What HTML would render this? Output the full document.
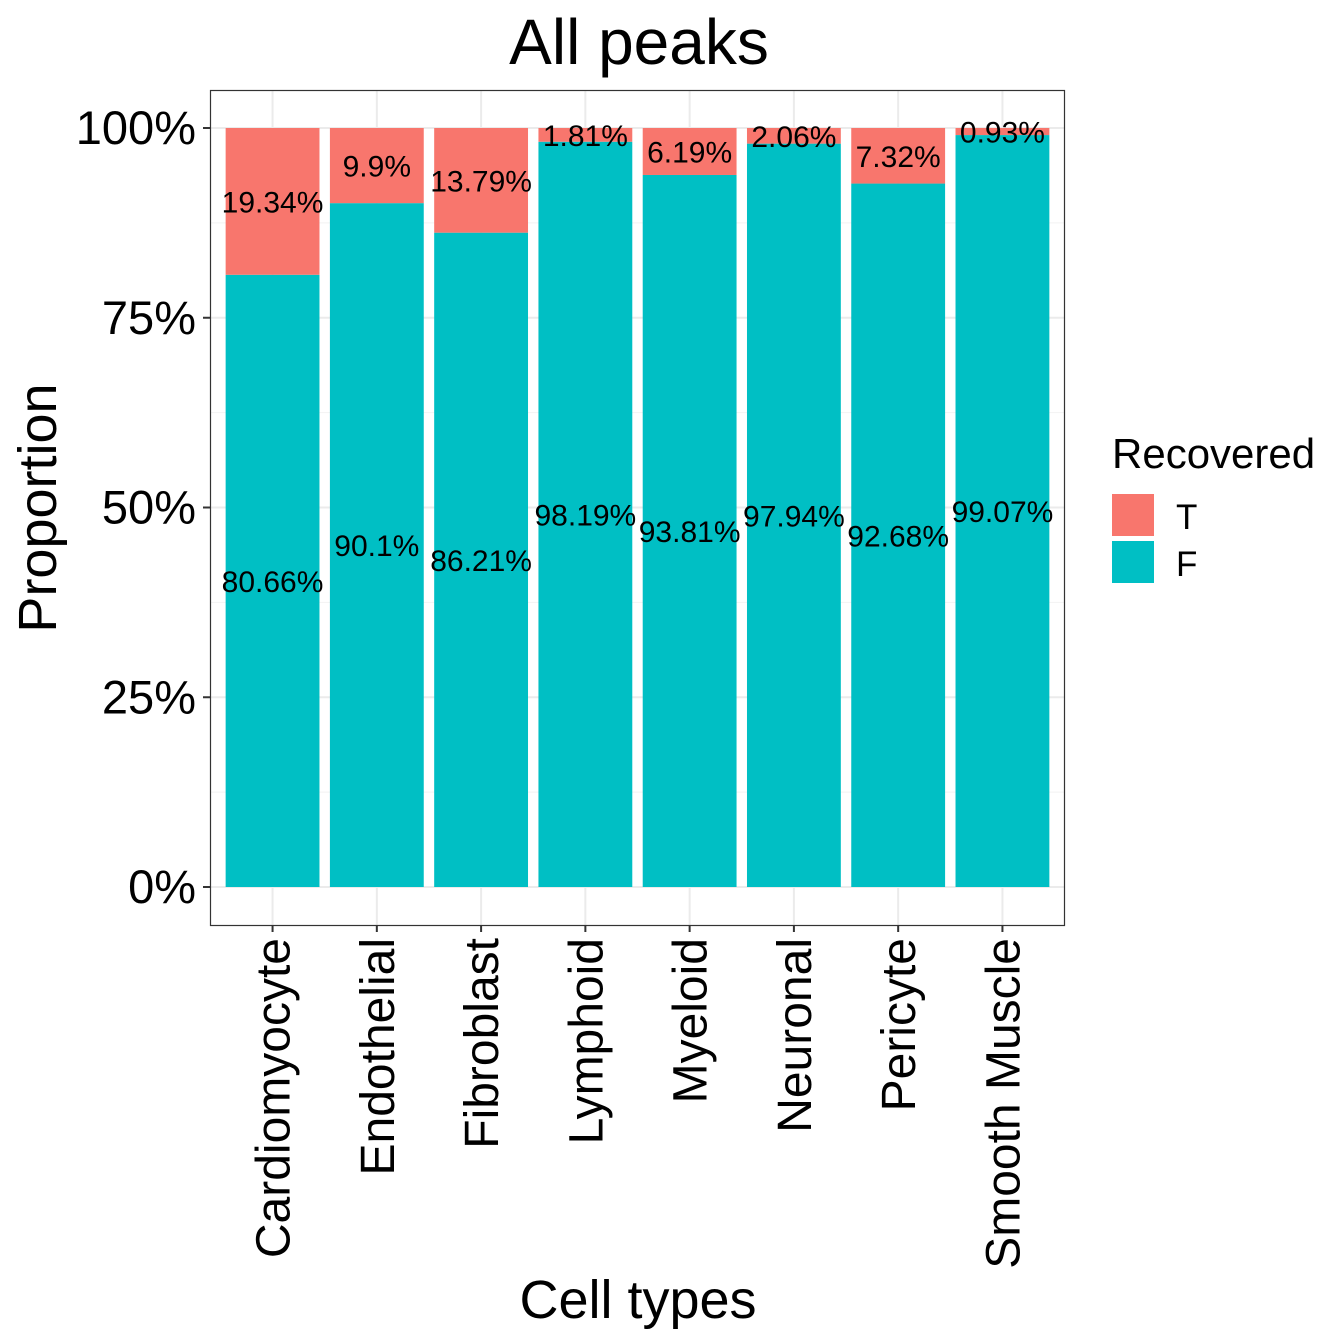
<!DOCTYPE html>
<html><head><meta charset="utf-8">
<style>
html,body{margin:0;padding:0;background:#fff;}
svg{display:block;font-family:"Liberation Sans",Arial,sans-serif;}
</style></head>
<body>
<svg id="chart" width="1344" height="1344" viewBox="0 0 1344 1344" xmlns="http://www.w3.org/2000/svg">
<rect width="1344" height="1344" fill="#fff"/>
<text x="639" y="64" font-size="64" text-anchor="middle">All peaks</text>
<g id="grid"></g>
<g id="bars"></g>
<g id="labels"></g>
<rect x="210.5" y="90.5" width="854" height="835" fill="none" stroke="#333" stroke-width="1.2"/>
<g id="axes"></g>
<text transform="translate(56,508) rotate(-90)" font-size="54" text-anchor="middle">Proportion</text>
<text x="638" y="1318" font-size="54" text-anchor="middle">Cell types</text>
<g>
<text x="1112" y="468" font-size="42">Recovered</text>
<rect x="1112" y="494" width="42" height="42" fill="#F8766D"/>
<text x="1176" y="529" font-size="35">T</text>
<rect x="1112" y="541" width="42" height="42" fill="#00BFC4"/>
<text x="1176" y="576" font-size="35">F</text>
</g>
</svg>
<script>
const categories = ["Cardiomyocyte","Endothelial","Fibroblast","Lymphoid","Myeloid","Neuronal","Pericyte","Smooth Muscle"];
const valuesF = [80.66, 90.1, 86.21, 98.19, 93.81, 97.94, 92.68, 99.07];
const valuesT = [19.34, 9.9, 13.79, 1.81, 6.19, 2.06, 7.32, 0.93];
const yTicks = [0, 25, 50, 75, 100];
const yTickLabels = ["0%","25%","50%","75%","100%"];

const NS = "http://www.w3.org/2000/svg";
const px0 = 210, px1 = 1065;
const unit = (px1 - px0) / (categories.length + 0.2);
const xScale = i => px0 + (0.6 + i) * unit;
const yScale = v => 887 - v * 7.59;
const barW = unit * 0.9;

function mk(tag, attrs, parent) {
  const e = document.createElementNS(NS, tag);
  for (const k in attrs) e.setAttribute(k, attrs[k]);
  parent.appendChild(e);
  return e;
}
const grid = document.getElementById('grid');
const bars = document.getElementById('bars');
const labels = document.getElementById('labels');
const axes = document.getElementById('axes');

for (let i = 0; i < yTicks.length - 1; i++) {
  const y = yScale((yTicks[i] + yTicks[i + 1]) / 2);
  const l = mk('line', {x1: px0, x2: px1, y1: y, y2: y, stroke: '#f2f2f2', 'stroke-width': 1}, grid);
  
  
}
yTicks.forEach((t, i) => {
  const y = yScale(t);
  const l = mk('line', {x1: px0, x2: px1, y1: y, y2: y, stroke: '#ebebeb', 'stroke-width': 2}, grid);
  
  
  const tk = mk('line', {x1: 203, x2: 210, y1: y, y2: y, stroke: '#333', 'stroke-width': 2}, axes);
  
  
  const tx = mk('text', {x: 196, y: y + 16, 'font-size': 47, 'text-anchor': 'end', fill: '#000'}, axes);
  tx.textContent = yTickLabels[i];
  
  
});
categories.forEach((c, i) => {
  const cx = xScale(i);
  const g = mk('line', {x1: cx, x2: cx, y1: 90, y2: 925, stroke: '#ebebeb', 'stroke-width': 2}, grid);
  
  
  const fTop = yScale(valuesF[i]);
  const tTop = yScale(valuesF[i] + valuesT[i]);
  const bf = mk('rect', {x: cx - barW / 2, y: fTop, width: barW, height: yScale(0) - fTop, fill: '#00BFC4'}, bars);
  
  
  const bt = mk('rect', {x: cx - barW / 2, y: tTop, width: barW, height: fTop - tTop, fill: '#F8766D'}, bars);
  
  
  const lf = mk('text', {x: cx, y: yScale(valuesF[i] / 2) + 11, 'font-size': 30, 'text-anchor': 'middle'}, labels);
  lf.textContent = valuesF[i] + '%';
  
  
  const lt = mk('text', {x: cx, y: yScale(valuesF[i] + valuesT[i] / 2) + 11, 'font-size': 30, 'text-anchor': 'middle'}, labels);
  lt.textContent = valuesT[i] + '%';
  
  
  const tk = mk('line', {x1: cx, x2: cx, y1: 925, y2: 932, stroke: '#333', 'stroke-width': 2}, axes);
  
  
  const xl = mk('text', {transform: `translate(${cx + 17},938) rotate(-90)`, 'font-size': 48, 'text-anchor': 'end'}, axes);
  xl.textContent = c;
  
  
});
</script>
</body></html>
